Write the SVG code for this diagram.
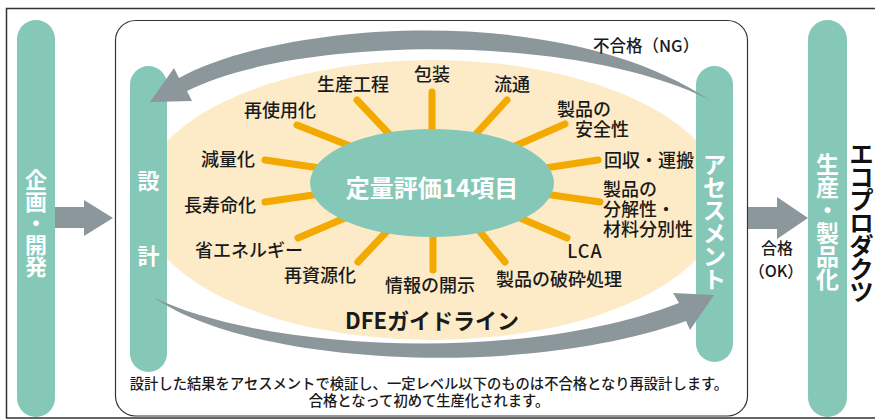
<svg xmlns="http://www.w3.org/2000/svg" width="875" height="420" viewBox="0 0 875 420">
<defs>
<style>
.pill{fill:#85c8b8}
.arrow{fill:#8c979b}
.spoke{stroke:#f2a900;stroke-width:7;stroke-linecap:round;fill:none}
.lbl{font-family:"Noto Sans CJK JP","Noto Sans",sans-serif;font-size:18px;font-weight:500;fill:#1a1a1a}
.vt{font-family:"Noto Sans CJK JP","Noto Sans",sans-serif;font-weight:700;fill:#ffffff;text-anchor:middle;dominant-baseline:central}
.cap{font-family:"Noto Sans CJK JP","Noto Sans",sans-serif;font-size:14.3px;font-weight:500;fill:#1a1a1a;text-anchor:middle}
.mid{text-anchor:middle}
</style>
</defs>
<rect x="0" y="0" width="875" height="420" fill="#ffffff"/>
<rect x="6.5" y="8.5" width="880" height="409.5" fill="none" stroke="#333" stroke-width="1.5"/>
<rect x="115.5" y="20.5" width="632" height="395.5" rx="20" fill="none" stroke="#333" stroke-width="1.2"/>

<g id="guideline">
<ellipse cx="432" cy="200" rx="292" ry="140" fill="#fdebc7"/>
<text class="lbl mid" x="432" y="329" style="font-size:22px;font-weight:700">DFEガイドライン</text>
</g>

<g id="spokes">
<line class="spoke" x1="432" y1="92" x2="432" y2="135"/>
<line class="spoke" x1="507" y1="100" x2="475" y2="135"/>
<line class="spoke" x1="357" y1="100" x2="390" y2="135"/>
<line class="spoke" x1="297" y1="125" x2="350" y2="146"/>
<line class="spoke" x1="265" y1="160" x2="320" y2="168"/>
<line class="spoke" x1="265" y1="202" x2="320" y2="194"/>
<line class="spoke" x1="298" y1="238" x2="345" y2="218"/>
<line class="spoke" x1="358" y1="262" x2="390" y2="228"/>
<line class="spoke" x1="433" y1="270" x2="433" y2="230"/>
<line class="spoke" x1="505" y1="262" x2="477" y2="228"/>
<line class="spoke" x1="567" y1="238" x2="520" y2="218"/>
<line class="spoke" x1="600" y1="202" x2="545" y2="194"/>
<line class="spoke" x1="598" y1="160" x2="545" y2="168"/>
<line class="spoke" x1="565" y1="124" x2="515" y2="146"/>
</g>

<g id="items">
<text class="lbl mid" x="432" y="81">包装</text>
<text class="lbl mid" x="353" y="91">生産工程</text>
<text class="lbl mid" x="512" y="91">流通</text>
<text class="lbl mid" x="280" y="117">再使用化</text>
<text class="lbl" x="557" y="116">製品の</text>
<text class="lbl" x="575" y="136">安全性</text>
<text class="lbl mid" x="228" y="166">減量化</text>
<text class="lbl" x="604" y="167">回収・運搬</text>
<text class="lbl mid" x="220" y="212">長寿命化</text>
<text class="lbl" x="603" y="196">製品の</text>
<text class="lbl" x="603" y="216">分解性・</text>
<text class="lbl" x="603" y="236">材料分別性</text>
<text class="lbl mid" x="249" y="257">省エネルギー</text>
<text class="lbl mid" x="585" y="258" style="letter-spacing:1px">LCA</text>
<text class="lbl mid" x="320" y="282">再資源化</text>
<text class="lbl mid" x="430" y="292">情報の開示</text>
<text class="lbl mid" x="559" y="286">製品の破砕処理</text>
</g>

<g id="center">
<ellipse cx="432" cy="183" rx="122" ry="54" class="pill"/>
<text class="lbl mid" x="432" y="197" style="font-size:24px;font-weight:700;fill:#ffffff">定量評価14項目</text>
</g>

<g id="planning">
<rect x="17" y="20" width="38" height="397" rx="19" class="pill"/>
<text class="vt" style="font-size:22px"><tspan x="36" y="178">企</tspan><tspan x="36" y="200">画</tspan><tspan x="36" y="221">・</tspan><tspan x="36" y="243">開</tspan><tspan x="36" y="265">発</tspan></text>
</g>

<g id="design">
<rect x="130" y="66" width="37" height="306" rx="18.5" class="pill"/>
<text class="vt" style="font-size:22px"><tspan x="148.5" y="179">設</tspan><tspan x="148.5" y="254">計</tspan></text>
</g>

<g id="assessment">
<rect x="696" y="66" width="37" height="296" rx="18.5" class="pill"/>
<text class="vt" style="font-size:23px"><tspan x="714.5" y="163">ア</tspan><tspan x="714.5" y="186">セ</tspan><tspan x="714.5" y="209">ス</tspan><tspan x="714.5" y="232">メ</tspan><tspan x="714.5" y="255">ン</tspan><tspan x="714.5" y="278">ト</tspan></text>
</g>

<g id="production">
<rect x="808" y="20" width="39" height="397" rx="19.5" class="pill"/>
<text class="vt" style="font-size:23px"><tspan x="827.5" y="163">生</tspan><tspan x="827.5" y="186">産</tspan><tspan x="827.5" y="209">・</tspan><tspan x="827.5" y="232">製</tspan><tspan x="827.5" y="255">品</tspan><tspan x="827.5" y="278">化</tspan></text>
</g>

<g id="ecoproducts">
<text class="vt" style="font-size:24px;fill:#111"><tspan x="861.5" y="152">エ</tspan><tspan x="861.5" y="175">コ</tspan><tspan x="861.5" y="198">プ</tspan><tspan x="861.5" y="221">ロ</tspan><tspan x="861.5" y="244">ダ</tspan><tspan x="861.5" y="267">ク</tspan><tspan x="861.5" y="290">ツ</tspan></text>
</g>

<g id="connectors">
<path class="arrow" d="M55,207 L84,207 L84,200 L113,218 L84,236 L84,228 L55,228 Z"/>
<path class="arrow" d="M748,207 L777,207 L777,197 L808,218 L777,239 L777,229 L748,229 Z"/>
<path class="arrow" d="M150,102 L174,68 L179,78 C280,22 560,0 710,100 C570,30 290,38 187,91 L192,101 Z"/>
<path class="arrow" d="M153,297 C260,350 520,365 679,303 L673,293 L714,295 L690,330 L686,321 C520,380 250,365 153,297 Z"/>
<text class="lbl" x="593" y="52" style="font-size:16.5px">不合格（NG）</text>
<text class="lbl mid" x="777" y="254" style="font-size:16px">合格</text>
<text class="lbl mid" x="776" y="277" style="font-size:16px">（OK）</text>
</g>

<g id="caption">
<text class="cap" x="429" y="389">設計した結果をアセスメントで検証し、一定レベル以下のものは不合格となり再設計します。</text>
<text class="cap" x="429" y="406">合格となって初めて生産化されます。</text>
</g>
</svg>
